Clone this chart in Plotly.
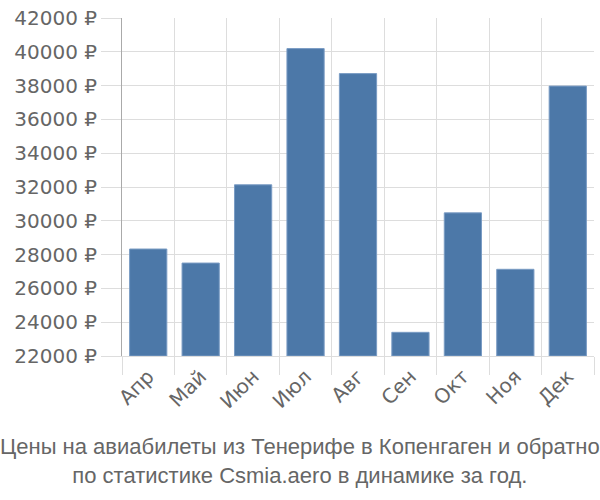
import plotly.graph_objects as go

months = ["Апр", "Май", "Июн", "Июл", "Авг", "Сен", "Окт", "Ноя", "Дек"]
prices = [28330, 27500, 32130, 40190, 38710, 23400, 30470, 27130, 37970]
y_ticks = list(range(22000, 42001, 2000))
title_lines = ["Цены на авиабилеты из Тенерифе в Копенгаген и обратно",
               "по статистике Csmia.aero в динамике за год."]

base = 22000
fig = go.Figure(go.Bar(
    x=months,
    y=[p - base for p in prices],
    base=base,
    marker=dict(color="#4c78a8", line=dict(color="#7a9cc4", width=1)),
    hoverinfo="skip",
))

tick_font = dict(family="DejaVu Sans, sans-serif", size=20, color="#666666")
title_font = dict(family="Liberation Sans, Arial, sans-serif", size=22, color="#666666")

L, R, T, B = 122, 6, 14, 144
fig.update_layout(
    width=600, height=500,
    margin=dict(l=L, r=R, t=T, b=B),
    plot_bgcolor="white", paper_bgcolor="white",
    bargap=0.29,
    showlegend=False,
    xaxis=dict(
        tickson="boundaries", showgrid=True, gridcolor="#dddddd", gridwidth=1,
        ticks="outside", ticklen=18, tickcolor="#dddddd",
        tickangle=-45, tickfont=tick_font,
        showline=True, linecolor="#dddddd", linewidth=1,
    ),
    yaxis=dict(
        range=[22000, 42000], tickvals=y_ticks,
        ticktext=[f"{v} ₽" for v in y_ticks],
        showgrid=True, gridcolor="#dddddd", gridwidth=1,
        ticks="outside", ticklen=20, tickcolor="#dddddd",
        showline=True, linecolor="#aaaaaa", linewidth=1,
        zeroline=False, tickfont=tick_font,
    ),
)

pw = 600 - L - R
ph = 500 - T - B
fig.add_annotation(
    text="<br>".join(title_lines),
    x=(300 - L) / pw, y=-(492 - (500 - B)) / ph,
    xref="paper", yref="paper", xanchor="center", yanchor="bottom",
    showarrow=False, font=title_font,
)
fig.write_html("out.html")
